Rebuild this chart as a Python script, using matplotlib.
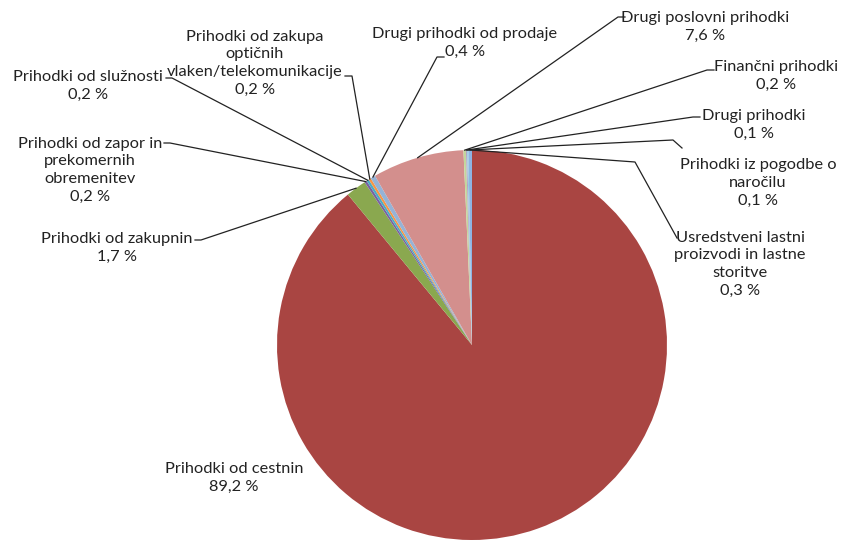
import numpy as np
import matplotlib
matplotlib.use("Agg")
import matplotlib.pyplot as plt

# Revenue shares (%), in the order the slices go clockwise from 12 o'clock
labels = [
    "Prihodki od cestnin",
    "Prihodki od zakupnin",
    "Prihodki od zapor in\nprekomernih\nobremenitev",
    "Prihodki od služnosti",
    "Prihodki od zakupa\noptičnih\nvlaken/telekomunikacije",
    "Drugi prihodki od prodaje",
    "Drugi poslovni prihodki",
    "Finančni prihodki",
    "Drugi prihodki",
    "Prihodki iz pogodbe o\nnaročilu",
    "Usredstveni lastni\nproizvodi in lastne\nstoritve",
]
values = [89.2, 1.7, 0.2, 0.2, 0.2, 0.4, 7.6, 0.2, 0.1, 0.1, 0.3]
value_text = ["89,2 %", "1,7 %", "0,2 %", "0,2 %", "0,2 %", "0,4 %",
              "7,6 %", "0,2 %", "0,1 %", "0,1 %", "0,3 %"]
colors = ["#A94542", "#8AA84F", "#7A62A0", "#4BACC6", "#F79646", "#95B3D7",
          "#D38F8D", "#C3D69B", "#B3A2C7", "#93CDDD", "#8EB4E3"]

W, H = 846, 541
fig = plt.figure(figsize=(W / 100, H / 100), dpi=100)
ax = fig.add_axes([0, 0, 1, 1])


def py(y):
    # pixel row (from top) -> data y
    return H - y


cx, cy, r = 472, py(345), 195
wedges, _ = ax.pie(values, colors=colors, startangle=90, counterclock=False,
                   center=(cx, cy), radius=r, frame=True,
                   wedgeprops=dict(linewidth=0))
ax.set_xlim(0, W)
ax.set_ylim(0, H)
ax.set_aspect("equal")
ax.axis("off")

# label centre (x, y from top) and leader path (label side first), None = no line
layout = [
    ((234, 478), None),
    ((117, 248), [(195, 240), (201, 240)]),
    ((90, 170), [(164, 143), (170, 143)]),
    ((88, 86), [(166, 78), (172, 78)]),
    ((255, 63), [(345, 76), (352, 76)]),
    ((465, 43), [(444, 57), (437, 57)]),
    ((705, 27), [(625, 17), (618, 17)]),
    ((776, 76), [(714, 70), (707, 70)]),
    ((754, 125), [(700, 117), (693, 117)]),
    ((758, 183), [(682, 148), (673, 140)]),
    ((740, 264), [(677, 238), (635, 162)]),
]

font = dict(family=["Lato", "DejaVu Sans"], size=11.8, color="#222222")

for w, lab, vt, (pos, path) in zip(wedges, labels, value_text, layout):
    ax.text(pos[0], py(pos[1]), lab + "\n" + vt, ha="center", va="center",
            multialignment="center", linespacing=1.33, **font)
    if path is None:
        continue
    mid = np.deg2rad((w.theta1 + w.theta2) / 2)
    ex, ey = cx + r * np.cos(mid), cy + r * np.sin(mid)
    xs = [p[0] for p in path] + [ex]
    ys = [py(p[1]) for p in path] + [ey]
    ax.plot(xs, ys, color="#222222", linewidth=0.9)

fig.savefig("out.png", dpi=100)
